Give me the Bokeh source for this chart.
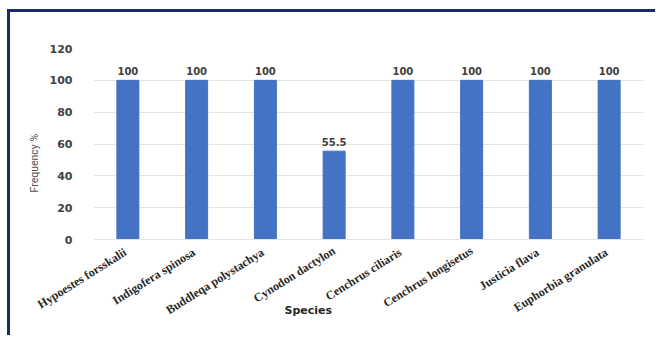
from bokeh.plotting import figure
from bokeh.models import Range1d, FactorRange, FixedTicker, Title, ColumnDataSource
from bokeh.core.properties import value
from bokeh.embed import file_html
from bokeh.resources import INLINE

species = ["Hypoestes  forsskalii", "Indigofera  spinosa", "Buddleqa  polystachya",
           "Cynodon dactylon", "Cenchrus  ciliaris", "Cenchrus longisetus",
           "Justicia  flava", "Euphorbia  granulata"]
frequency = [100, 100, 100, 55.5, 100, 100, 100, 100]
value_labels = ["100", "100", "100", "55.5", "100", "100", "100", "100"]
y_ticks = [0, 20, 40, 60, 80, 100, 120]

source = ColumnDataSource(data=dict(x=species, y=frequency, lab=value_labels))

p = figure(width=648, height=326, x_range=FactorRange(*species, range_padding=0),
           y_range=Range1d(0, 120), output_backend="svg", toolbar_location=None,
           min_border_left=83, min_border_right=15, min_border_top=36, min_border_bottom=99,
           styles={"border-left": "3px solid #1B2A6B", "border-top": "3px solid #1B2A6B",
                   "margin-left": "7px", "margin-top": "9px"})
p.outline_line_color = None
p.background_fill_color = "white"
p.border_fill_color = "white"

p.vbar(x="x", top="y", width=0.32, source=source, color="#4472C4")
p.text(x="x", y="y", text="lab", source=source, text_align="center", text_baseline="bottom",
       y_offset=-5, text_font=value("DejaVu Sans"), text_font_style="bold",
       text_font_size="10px", text_color="#404040")

p.xgrid.grid_line_color = None
p.ygrid.grid_line_color = "#E4E4E4"
p.ygrid.ticker = FixedTicker(ticks=y_ticks)

p.yaxis.ticker = FixedTicker(ticks=y_ticks)
p.yaxis.axis_line_color = None
p.yaxis.major_tick_line_color = None
p.yaxis.minor_tick_line_color = None
p.yaxis.major_label_text_font = "DejaVu Sans"
p.yaxis.major_label_text_font_style = "bold"
p.yaxis.major_label_text_font_size = "11px"
p.yaxis.major_label_text_color = "#404040"
p.yaxis.major_label_standoff = 15

p.xaxis.axis_line_color = "#E4E4E4"
p.xaxis.major_tick_line_color = None
p.xaxis.minor_tick_line_color = None
p.xaxis.major_label_orientation = 0.56
p.xaxis.major_label_text_font = "Liberation Serif"
p.xaxis.major_label_text_font_style = "bold"
p.xaxis.major_label_text_font_size = "12px"
p.xaxis.major_label_text_color = "#262626"
p.xaxis.major_label_standoff = 4

p.add_layout(Title(text="Species", align="left", offset=191, vertical_align="top",
                   standoff=-44, text_font="DejaVu Sans", text_font_style="bold",
                   text_font_size="11px", text_color="#262626"), "below")
p.add_layout(Title(text="Frequency %", align="left", offset=47, standoff=11,
                   text_font="Roboto", text_font_style="normal",
                   text_font_size="10.5px", text_color="#505050"), "left")

open("out.html", "w").write(file_html(p, INLINE))
